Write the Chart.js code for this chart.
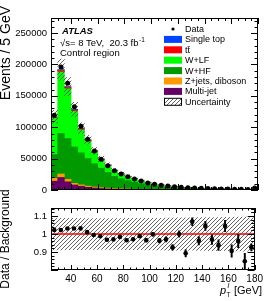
<!DOCTYPE html>
<html>
<head>
<meta charset="utf-8">
<script src="https://cdn.jsdelivr.net/npm/chart.js@4.4.1/dist/chart.umd.min.js"></script>
<style>
    html, body { margin: 0; padding: 0; background: #fff; }
    #wrap { position: relative; width: 266px; height: 301px; overflow: hidden; }
    canvas { position: absolute; left: 0; }
    #mainChart { top: 0; }
    #ratioChart { top: 175px; }
</style>
</head>
<body>
<div id="wrap">
    <canvas id="mainChart" width="266" height="200"></canvas>
    <canvas id="ratioChart" width="266" height="126"></canvas>
</div>
<script>
// lepton pT bins, 5 GeV wide (centres)
const binCentres = [27.5, 32.5, 37.5, 42.5, 47.5, 52.5, 57.5, 62.5, 67.5, 72.5, 77.5, 82.5, 87.5, 92.5, 97.5,
    102.5, 107.5, 112.5, 117.5, 122.5, 127.5, 132.5, 137.5, 142.5, 147.5, 152.5, 157.5, 162.5, 167.5, 172.5, 177.5];

const dataEvents = [119000, 196000, 170000, 132500, 101500, 81000, 62000, 49000, 38700, 30700, 25500, 21200, 17500, 14300, 11300,
    9300, 7600, 6200, 5000, 4300, 3500, 3100, 2600, 2300, 1900, 1600, 1400, 1150, 1000, 800, 3000];

// background processes, stacked bottom -> top
const multiJet = [14000, 20000, 13000, 8000, 6000, 4300, 3200, 2400, 1800, 1400, 1100, 900, 700, 550, 450,
    350, 300, 250, 200, 170, 140, 120, 100, 90, 80, 70, 60, 50, 45, 40, 120];
const zJetsDiboson = [4500, 5500, 4000, 2600, 2200, 1900, 1600, 1300, 1100, 900, 750, 650, 550, 450, 380,
    320, 270, 230, 190, 160, 140, 120, 100, 90, 75, 65, 55, 50, 42, 38, 130];
const wHF = [38000, 64500, 65000, 58000, 51000, 44000, 37000, 31000, 25000, 19500, 16000, 13500, 11000, 8800, 7000,
    5500, 4700, 3700, 3100, 2450, 2200, 1600, 1500, 1200, 1080, 930, 720, 700, 560, 500, 1750];
const wLF = [57500, 97900, 79200, 56700, 36500, 27600, 18500, 13200, 10600, 8600, 7000, 6000, 5000, 4000, 3300,
    2650, 2200, 1850, 1600, 1250, 1200, 850, 820, 670, 590, 520, 400, 380, 310, 290, 970];
const ttbar = [1500, 2400, 2300, 2000, 1700, 1500, 1300, 1100, 950, 820, 700, 600, 520, 450, 380,
    330, 280, 240, 210, 180, 160, 140, 120, 100, 90, 80, 70, 60, 55, 50, 180];
const singleTop = [900, 1500, 1400, 1200, 1000, 850, 720, 600, 500, 420, 360, 300, 260, 220, 190,
    160, 140, 120, 100, 90, 80, 70, 60, 50, 45, 40, 35, 30, 28, 25, 90];

// relative uncertainty on the background and data error on the ratio
const bkgUncertainty = [0.088, 0.088, 0.087, 0.087, 0.087, 0.086, 0.086, 0.086, 0.086, 0.086, 0.086, 0.087, 0.087, 0.087, 0.088,
    0.088, 0.088, 0.089, 0.089, 0.09, 0.09, 0.09, 0.091, 0.091, 0.092, 0.092, 0.093, 0.093, 0.094, 0.095, 0.09];
const ratioError = [0.003, 0.003, 0.003, 0.003, 0.003, 0.004, 0.004, 0.005, 0.005, 0.006, 0.007, 0.007, 0.008, 0.009, 0.01,
    0.011, 0.012, 0.014, 0.016, 0.018, 0.02, 0.022, 0.023, 0.025, 0.027, 0.029, 0.032, 0.034, 0.037, 0.045, 0.02];

const mainYTicks = [0, 50000, 100000, 150000, 200000, 250000];
const ratioYTicks = [0.9, 1, 1.1];
const xTicks = [40, 60, 80, 100, 120, 140, 160, 180];

const FONT = "'Liberation Sans', Arial, Helvetica, sans-serif";

const bkgTotal = binCentres.map((x, i) => multiJet[i] + zJetsDiboson[i] + wHF[i] + wLF[i] + ttbar[i] + singleTop[i]);
const ratio = dataEvents.map((d, i) => d / bkgTotal[i]);

function hatch(color) {
    const c = document.createElement('canvas');
    c.width = 4; c.height = 4;
    const g = c.getContext('2d');
    g.strokeStyle = color;
    g.lineWidth = 0.9;
    g.beginPath();
    g.moveTo(0, 4); g.lineTo(4, 0);
    g.moveTo(-1, 1); g.lineTo(1, -1);
    g.moveTo(3, 5); g.lineTo(5, 3);
    g.stroke();
    return g.createPattern(c, 'repeat');
}
const hatchFill = hatch('#555');

function stackSet(label, values, color) {
    return {
        label: label,
        data: binCentres.map((x, i) => ({ x: x, y: values[i] })),
        backgroundColor: color,
        borderWidth: 0,
        stack: 'mc',
        order: 2
    };
}

// ROOT style frame with ticks pointing inwards
const rootAxes = {
    id: 'rootAxes',
    afterDatasetsDraw(chart, args, opts) {
        const { ctx, chartArea: a } = chart;
        const xs = chart.scales.x, ys = chart.scales.y;
        ctx.save();
        ctx.strokeStyle = '#000';
        ctx.lineWidth = 1;
        ctx.beginPath();
        for (let i = Math.ceil(xs.min / opts.xMinor - 1e-9); i * opts.xMinor <= xs.max + 1e-9; i++) {
            const v = i * opts.xMinor;
            const major = Math.abs(v / opts.xMajor - Math.round(v / opts.xMajor)) < 1e-6;
            const len = major ? opts.xLen : opts.xLen / 2;
            const px = Math.round(xs.getPixelForValue(v)) + 0.5;
            ctx.moveTo(px, a.bottom); ctx.lineTo(px, a.bottom - len);
            ctx.moveTo(px, a.top); ctx.lineTo(px, a.top + len);
        }
        for (let i = Math.ceil(ys.min / opts.yMinor - 1e-9); i * opts.yMinor <= ys.max + 1e-9; i++) {
            const v = i * opts.yMinor;
            const major = Math.abs(v / opts.yMajor - Math.round(v / opts.yMajor)) < 1e-6;
            const len = major ? opts.yLen : opts.yLen / 2;
            const py = Math.round(ys.getPixelForValue(v)) + 0.5;
            ctx.moveTo(a.left, py); ctx.lineTo(a.left + len, py);
            ctx.moveTo(a.right, py); ctx.lineTo(a.right - len, py);
        }
        ctx.stroke();
        ctx.strokeRect(Math.round(a.left) + 0.5, Math.round(a.top) + 0.5, Math.round(a.width) - 1, Math.round(a.height) - 1);
        ctx.restore();
    }
};

// vertical axis titles
const sideText = {
    id: 'sideText',
    afterDraw(chart, args, opts) {
        const ctx = chart.ctx;
        ctx.save();
        ctx.fillStyle = '#000';
        (opts.vertical || []).forEach(t => {
            ctx.save();
            ctx.translate(t.x, t.y);
            ctx.rotate(-Math.PI / 2);
            ctx.font = t.font;
            ctx.textAlign = t.align;
            ctx.textBaseline = 'middle';
            ctx.fillText(t.text, 0, 0);
            ctx.restore();
        });
        ctx.restore();
    }
};

const legendBox = {
    id: 'legendBox',
    afterDraw(chart, args, opts) {
        const ctx = chart.ctx;
        ctx.save();
        ctx.textBaseline = 'middle';
        ctx.font = '9px ' + FONT;
        opts.items.forEach((item, k) => {
            const y = opts.top + k * opts.step;
            const ds = chart.data.datasets.find(d => d.label === item);
            if (ds.type === 'scatter') {
                ctx.fillStyle = '#000';
                ctx.beginPath();
                ctx.arc(opts.x + 9, y, 1.6, 0, Math.PI * 2);
                ctx.fill();
            } else {
                ctx.fillStyle = ds.backgroundColor;
                ctx.fillRect(opts.x, y - 3.5, 18, 7);
                if (item === 'Uncertainty') {
                    ctx.strokeStyle = '#000';
                    ctx.lineWidth = 1;
                    ctx.strokeRect(opts.x + 0.5, y - 3.5, 17, 7);
                }
            }
            ctx.fillStyle = '#000';
            ctx.fillText(ds.label, opts.x + 21, y + 0.5);
        });

        // ATLAS label
        ctx.textBaseline = 'alphabetic';
        ctx.font = 'italic bold 9.5px ' + FONT;
        ctx.fillText('ATLAS', 62, 34);
        ctx.font = '9.5px ' + FONT;
        ctx.fillText('\u221As= 8 TeV,  20.3 fb', 60, 46);
        const w = ctx.measureText('\u221As= 8 TeV,  20.3 fb').width;
        ctx.font = '6.5px ' + FONT;
        ctx.fillText('-1', 60 + w + 0.5, 42);
        ctx.font = '9.5px ' + FONT;
        ctx.fillText('Control region', 60, 56);
        ctx.restore();
    }
};

const xTitle = {
    id: 'xTitle',
    afterDraw(chart) {
        const ctx = chart.ctx;
        const base = 119;
        ctx.save();
        ctx.fillStyle = '#000';
        ctx.textBaseline = 'alphabetic';
        ctx.font = 'italic 11px ' + FONT;
        ctx.fillText('p', 220, base);
        ctx.font = 'italic 7.5px ' + FONT;
        ctx.fillText('l', 227.5, base - 6);
        ctx.font = '6.5px ' + FONT;
        ctx.fillText('T', 226.5, base + 3);
        ctx.font = '11px ' + FONT;
        ctx.fillText('[GeV]', 234, base);
        ctx.restore();
    }
};

const tickFont = { family: FONT, size: 9.5 };

new Chart(document.getElementById('mainChart'), {
    type: 'bar',
    data: {
        datasets: [
            stackSet('Multi-jet', multiJet, '#660066'),
            stackSet('Z+jets, diboson', zJetsDiboson, '#ff9900'),
            stackSet('W+HF', wHF, '#009900'),
            stackSet('W+LF', wLF, '#00ff00'),
            stackSet('t\u0074\u0304', ttbar, '#ff0000'),
            stackSet('Single top', singleTop, '#0044ff'),
            {
                label: 'Uncertainty',
                data: binCentres.map((x, i) => ({ x: x, y: [bkgTotal[i] * (1 - bkgUncertainty[i]), bkgTotal[i] * (1 + bkgUncertainty[i])] })),
                backgroundColor: hatchFill,
                borderWidth: 0,
                stack: 'unc',
                grouped: false,
                order: 1
            },
            {
                type: 'scatter',
                label: 'Data',
                data: binCentres.map((x, i) => ({ x: x, y: dataEvents[i] })),
                backgroundColor: '#000',
                borderWidth: 0,
                pointRadius: 2.5,
                stack: 'data',
                order: 0
            }
        ]
    },
    options: {
        responsive: false,
        animation: false,
        devicePixelRatio: 1,
        barPercentage: 1,
        categoryPercentage: 1,
        layout: { padding: { top: 18, right: 8, left: 0, bottom: 0 } },
        scales: {
            x: {
                type: 'linear', min: 25, max: 180, offset: false, stacked: true,
                grid: { display: false, drawTicks: false }, border: { display: false },
                ticks: { display: false },
                afterFit(scale) { scale.height = 10; }
            },
            y: {
                type: 'linear', min: 0, max: 274000, stacked: true,
                grid: { display: false, drawTicks: false }, border: { display: false },
                ticks: { color: '#000', font: tickFont, padding: 4, callback: v => String(v) },
                afterBuildTicks(scale) { scale.ticks = mainYTicks.map(v => ({ value: v })); },
                afterFit(scale) { scale.width = 51; }
            }
        },
        plugins: {
            legend: { display: false },
            tooltip: { enabled: false },
            rootAxes: { xMinor: 5, xMajor: 20, xLen: 6, yMinor: 10000, yMajor: 50000, yLen: 7 },
            sideText: { vertical: [{ text: 'Events / 5 GeV', x: 6, y: 6, align: 'right', font: '14px ' + FONT }] },
            legendBox: {
                x: 164, top: 29, step: 10.4,
                items: ['Data', 'Single top', 't\u0074\u0304', 'W+LF', 'W+HF', 'Z+jets, diboson', 'Multi-jet', 'Uncertainty']
            }
        }
    },
    plugins: [rootAxes, sideText, legendBox]
});

new Chart(document.getElementById('ratioChart'), {
    type: 'bar',
    data: {
        datasets: [
            {
                label: 'Uncertainty',
                data: binCentres.map((x, i) => ({ x: x, y: [1 - bkgUncertainty[i], 1 + bkgUncertainty[i]] })),
                backgroundColor: hatchFill,
                borderWidth: 0,
                order: 3
            },
            {
                type: 'line',
                label: 'unity',
                data: [{ x: 25, y: 1 }, { x: 180, y: 1 }],
                borderColor: '#ff0000',
                borderWidth: 1.5,
                pointRadius: 0,
                order: 2
            },
            {
                label: 'Data error',
                data: binCentres.map((x, i) => ({ x: x, y: [ratio[i] - ratioError[i], ratio[i] + ratioError[i]] })),
                backgroundColor: '#000',
                borderWidth: 0,
                barThickness: 1.3,
                grouped: false,
                order: 1
            },
            {
                type: 'scatter',
                label: 'Data',
                data: binCentres.map((x, i) => ({ x: x, y: ratio[i] })),
                backgroundColor: '#000',
                borderWidth: 0,
                pointRadius: 2.3,
                order: 0
            }
        ]
    },
    options: {
        responsive: false,
        animation: false,
        devicePixelRatio: 1,
        barPercentage: 1,
        categoryPercentage: 1,
        layout: { padding: { top: 33, right: 8, left: 0, bottom: 0 } },
        scales: {
            x: {
                type: 'linear', min: 25, max: 180, offset: false,
                grid: { display: false, drawTicks: false }, border: { display: false },
                ticks: { color: '#000', font: { family: FONT, size: 10 }, padding: 3, maxRotation: 0, callback: v => String(v) },
                afterBuildTicks(scale) { scale.ticks = xTicks.map(v => ({ value: v })); },
                afterFit(scale) { scale.height = 31; }
            },
            y: {
                type: 'linear', min: 0.8, max: 1.145,
                grid: { display: false, drawTicks: false }, border: { display: false },
                ticks: { color: '#000', font: tickFont, padding: 4, callback: v => String(v) },
                afterBuildTicks(scale) { scale.ticks = ratioYTicks.map(v => ({ value: v })); },
                afterFit(scale) { scale.width = 51; }
            }
        },
        plugins: {
            legend: { display: false },
            tooltip: { enabled: false },
            rootAxes: { xMinor: 5, xMajor: 20, xLen: 5, yMinor: 0.02, yMajor: 0.1, yLen: 7 },
            sideText: { vertical: [{ text: 'Data / Background', x: 6, y: 64, align: 'center', font: '12px ' + FONT }] }
        }
    },
    plugins: [rootAxes, sideText, xTitle]
});
</script>
</body>
</html>
